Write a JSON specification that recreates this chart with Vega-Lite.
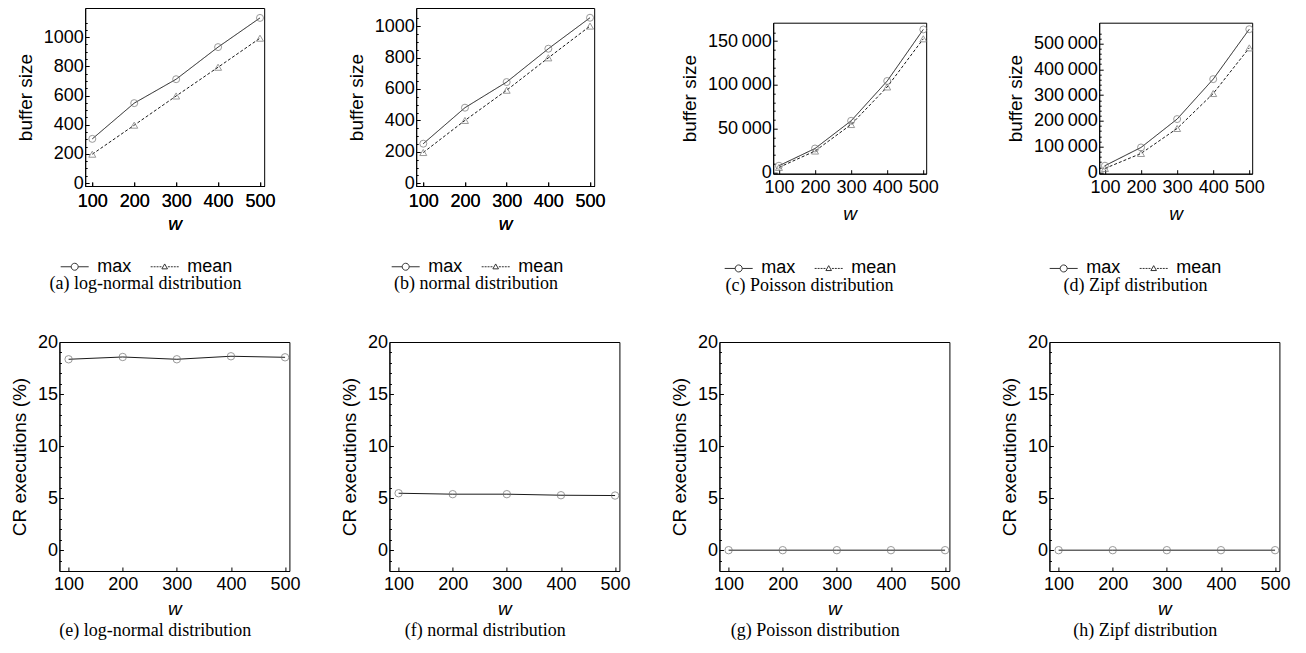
{
  "$schema": "https://vega.github.io/schema/vega-lite/v6.json",
  "background": "white",
  "padding": {"left": 9, "top": -3, "right": 0, "bottom": 5},
  "datasets": {
    "d": [
      {"panel": "a", "w": 100, "series": "max", "value": 303},
      {"panel": "a", "w": 200, "series": "max", "value": 548},
      {"panel": "a", "w": 300, "series": "max", "value": 712},
      {"panel": "a", "w": 400, "series": "max", "value": 932},
      {"panel": "a", "w": 500, "series": "max", "value": 1132},
      {"panel": "a", "w": 100, "series": "mean", "value": 198},
      {"panel": "a", "w": 200, "series": "mean", "value": 397},
      {"panel": "a", "w": 300, "series": "mean", "value": 597},
      {"panel": "a", "w": 400, "series": "mean", "value": 794},
      {"panel": "a", "w": 500, "series": "mean", "value": 993},
      {"panel": "b", "w": 100, "series": "max", "value": 252},
      {"panel": "b", "w": 200, "series": "max", "value": 481},
      {"panel": "b", "w": 300, "series": "max", "value": 644},
      {"panel": "b", "w": 400, "series": "max", "value": 856},
      {"panel": "b", "w": 500, "series": "max", "value": 1053},
      {"panel": "b", "w": 100, "series": "mean", "value": 196},
      {"panel": "b", "w": 200, "series": "mean", "value": 400},
      {"panel": "b", "w": 300, "series": "mean", "value": 592},
      {"panel": "b", "w": 400, "series": "mean", "value": 798},
      {"panel": "b", "w": 500, "series": "mean", "value": 1000},
      {"panel": "c", "w": 100, "series": "max", "value": 7600},
      {"panel": "c", "w": 200, "series": "max", "value": 27300},
      {"panel": "c", "w": 300, "series": "max", "value": 58900},
      {"panel": "c", "w": 400, "series": "max", "value": 104400},
      {"panel": "c", "w": 500, "series": "max", "value": 163300},
      {"panel": "c", "w": 100, "series": "mean", "value": 5700},
      {"panel": "c", "w": 200, "series": "mean", "value": 24400},
      {"panel": "c", "w": 300, "series": "mean", "value": 54700},
      {"panel": "c", "w": 400, "series": "mean", "value": 97600},
      {"panel": "c", "w": 500, "series": "mean", "value": 152600},
      {"panel": "d", "w": 100, "series": "max", "value": 26000},
      {"panel": "d", "w": 200, "series": "max", "value": 96900},
      {"panel": "d", "w": 300, "series": "max", "value": 207000},
      {"panel": "d", "w": 400, "series": "max", "value": 362000},
      {"panel": "d", "w": 500, "series": "max", "value": 555800},
      {"panel": "d", "w": 100, "series": "mean", "value": 15500},
      {"panel": "d", "w": 200, "series": "mean", "value": 73600},
      {"panel": "d", "w": 300, "series": "mean", "value": 170500},
      {"panel": "d", "w": 400, "series": "mean", "value": 306200},
      {"panel": "d", "w": 500, "series": "mean", "value": 483300},
      {"panel": "e", "w": 100, "series": "cr", "value": 18.34},
      {"panel": "e", "w": 200, "series": "cr", "value": 18.56},
      {"panel": "e", "w": 300, "series": "cr", "value": 18.34},
      {"panel": "e", "w": 400, "series": "cr", "value": 18.63},
      {"panel": "e", "w": 500, "series": "cr", "value": 18.53},
      {"panel": "f", "w": 100, "series": "cr", "value": 5.47},
      {"panel": "f", "w": 200, "series": "cr", "value": 5.38},
      {"panel": "f", "w": 300, "series": "cr", "value": 5.38},
      {"panel": "f", "w": 400, "series": "cr", "value": 5.28},
      {"panel": "f", "w": 500, "series": "cr", "value": 5.25},
      {"panel": "g", "w": 100, "series": "cr", "value": 0},
      {"panel": "g", "w": 200, "series": "cr", "value": 0},
      {"panel": "g", "w": 300, "series": "cr", "value": 0},
      {"panel": "g", "w": 400, "series": "cr", "value": 0},
      {"panel": "g", "w": 500, "series": "cr", "value": 0},
      {"panel": "h", "w": 100, "series": "cr", "value": 0},
      {"panel": "h", "w": 200, "series": "cr", "value": 0},
      {"panel": "h", "w": 300, "series": "cr", "value": 0},
      {"panel": "h", "w": 400, "series": "cr", "value": 0},
      {"panel": "h", "w": 500, "series": "cr", "value": 0}
    ]
  },
  "data": {"name": "d"},
  "config": {
    "view": {"stroke": "black", "strokeWidth": 1},
    "axis": {
      "labelFont": "Liberation Sans", "labelFontSize": 18, "labelColor": "black",
      "titleFont": "Liberation Sans", "titleFontSize": 19, "titleFontWeight": "normal", "titleColor": "black",
      "domainColor": "black", "domainWidth": 1, "tickColor": "black", "tickWidth": 1,
      "grid": false, "labelOverlap": false, "labelBound": false, "labelFlush": false
    },
    "axisX": {"titleFontStyle": "italic"},
    "title": {"font": "Liberation Serif", "fontSize": 18, "fontWeight": "normal", "color": "black"},
    "legend": {"labelFont": "Liberation Sans", "labelFontSize": 18, "labelColor": "black"}
  },
  "spacing": 36,
  "center": true,
  "vconcat": [
    {
      "spacing": 73,
      "resolve": {"scale": {"shape": "independent"}, "legend": {"shape": "independent"}},
      "hconcat": [
        {
          "spacing": 70,
          "resolve": {"scale": {"shape": "independent"}, "legend": {"shape": "independent"}},
          "hconcat": [
            {
              "width": 179, "height": 178,
              "transform": [{"filter": "datum.panel === 'a'"}],
              "resolve": {"axis": {"x": "independent"}},
              "encoding": {
                "x": {"field": "w", "type": "quantitative", "scale": {"domain": [83, 510], "nice": false, "zero": false},
                      "axis": {"title": "w", "values": [100, 200, 300, 400, 500], "tickSize": -4, "labelPadding": 10, "titlePadding": 4, "format": "d"}},
                "y": {"field": "value", "type": "quantitative", "scale": {"domain": [-20, 1200], "nice": false, "zero": false},
                      "axis": {"title": "buffer size",
                               "values": [0,50,100,150,200,250,300,350,400,450,500,550,600,650,700,750,800,850,900,950,1000,1050,1100],
                               "labelExpr": "datum.value % 200 === 0 ? format(datum.value, 'd') : ''",
                               "tickSize": {"condition": {"test": "datum.value % 200 === 0", "value": -4}, "value": -2},
                               "labelPadding": 6, "titlePadding": 8}}
              },
              "layer": [
                {"mark": {"type": "line", "color": "#1a1a1a", "strokeWidth": 1},
                 "encoding": {"detail": {"field": "series", "type": "nominal"},
                              "strokeDash": {"condition": {"test": "datum.series === 'mean'", "value": [3, 2]}, "value": [1, 0]}}},
                {"mark": {"type": "point", "filled": false, "color": "#707070", "strokeWidth": 1, "size": 49},
                 "encoding": {"x": {"field": "w", "type": "quantitative", "scale": {"domain": [83, 510], "nice": false, "zero": false},
                                    "axis": {"orient": "top", "labels": false, "ticks": true, "tickSize": -3, "tickColor": "transparent", "domain": false, "title": null, "values": [100, 200, 300, 400, 500], "minExtent": 10, "maxExtent": 10}},
                              "shape": {"condition": {"test": "datum.series === 'mean'", "value": "triangle-up"}, "value": "circle"}}},
                {"mark": {"type": "point", "filled": false, "color": "#333333", "opacity": 0},
                 "encoding": {"shape": {"field": "series", "type": "nominal",
                   "scale": {"domain": ["max", "mean"], "range": ["M-1,0H-0.25M0.25,0H1M0.25,0A0.25,0.25 0 1,1 -0.25,0A0.25,0.25 0 1,1 0.25,0", "M-1,0H-0.86M-0.79,0H-0.65M-0.58,0H-0.44M-0.37,0H-0.23M0.23,0H0.37M0.44,0H0.58M0.65,0H0.79M0.86,0H1M0,-0.2L0.2,0.15L-0.2,0.15Z"]},
                   "legend": {"orient": "none", "legendX": -25, "legendY": 244, "direction": "horizontal", "title": null, "symbolSize": 784, "symbolStrokeWidth": 1, "labelOffset": 8, "columnPadding": 16,
                              "encode": {"symbols": {"update": {"opacity": {"value": 1}, "stroke": {"value": "#333333"}, "fill": {"value": "transparent"}}}}}}}}
              ],
              "title": {"text": "(a) log-normal distribution", "orient": "bottom", "anchor": "middle", "frame": "bounds", "offset": -1}
            },
            {
              "width": 178, "height": 178,
              "transform": [{"filter": "datum.panel === 'b'"}],
              "resolve": {"axis": {"x": "independent"}},
              "encoding": {
                "x": {"field": "w", "type": "quantitative", "scale": {"domain": [83, 510], "nice": false, "zero": false},
                      "axis": {"title": "w", "values": [100, 200, 300, 400, 500], "tickSize": -4, "labelPadding": 10, "titlePadding": 4, "format": "d"}},
                "y": {"field": "value", "type": "quantitative", "scale": {"domain": [-17, 1115], "nice": false, "zero": false},
                      "axis": {"title": "buffer size",
                               "values": [0,50,100,150,200,250,300,350,400,450,500,550,600,650,700,750,800,850,900,950,1000,1050],
                               "labelExpr": "datum.value % 200 === 0 ? format(datum.value, 'd') : ''",
                               "tickSize": {"condition": {"test": "datum.value % 200 === 0", "value": -4}, "value": -2},
                               "labelPadding": 6, "titlePadding": 8}}
              },
              "layer": [
                {"mark": {"type": "line", "color": "#1a1a1a", "strokeWidth": 1},
                 "encoding": {"detail": {"field": "series", "type": "nominal"},
                              "strokeDash": {"condition": {"test": "datum.series === 'mean'", "value": [3, 2]}, "value": [1, 0]}}},
                {"mark": {"type": "point", "filled": false, "color": "#707070", "strokeWidth": 1, "size": 49},
                 "encoding": {"x": {"field": "w", "type": "quantitative", "scale": {"domain": [83, 510], "nice": false, "zero": false},
                                    "axis": {"orient": "top", "labels": false, "ticks": true, "tickSize": -3, "tickColor": "transparent", "domain": false, "title": null, "values": [100, 200, 300, 400, 500], "minExtent": 10, "maxExtent": 10}},
                              "shape": {"condition": {"test": "datum.series === 'mean'", "value": "triangle-up"}, "value": "circle"}}},
                {"mark": {"type": "point", "filled": false, "color": "#333333", "opacity": 0},
                 "encoding": {"shape": {"field": "series", "type": "nominal",
                   "scale": {"domain": ["max", "mean"], "range": ["M-1,0H-0.25M0.25,0H1M0.25,0A0.25,0.25 0 1,1 -0.25,0A0.25,0.25 0 1,1 0.25,0", "M-1,0H-0.86M-0.79,0H-0.65M-0.58,0H-0.44M-0.37,0H-0.23M0.23,0H0.37M0.44,0H0.58M0.65,0H0.79M0.86,0H1M0,-0.2L0.2,0.15L-0.2,0.15Z"]},
                   "legend": {"orient": "none", "legendX": -25, "legendY": 244, "direction": "horizontal", "title": null, "symbolSize": 784, "symbolStrokeWidth": 1, "labelOffset": 8, "columnPadding": 16,
                              "encode": {"symbols": {"update": {"opacity": {"value": 1}, "stroke": {"value": "#333333"}, "fill": {"value": "transparent"}}}}}}}}
              ],
              "title": {"text": "(b) normal distribution", "orient": "bottom", "anchor": "middle", "frame": "bounds", "offset": -1}
            }
          ]
        },
        {
          "spacing": 12.7,
          "resolve": {"scale": {"shape": "independent"}, "legend": {"shape": "independent"}},
          "vconcat": [
            {
              "width": 1, "height": 1, "view": {"stroke": null, "fill": null},
              "data": {"values": []},
              "mark": {"type": "point", "opacity": 0}
            },
            {
              "spacing": 66,
              "resolve": {"scale": {"shape": "independent"}, "legend": {"shape": "independent"}},
              "hconcat": [
                {
                  "width": 153, "height": 151,
                  "transform": [{"filter": "datum.panel === 'c'"}],
                  "encoding": {
                    "x": {"field": "w", "type": "quantitative", "scale": {"domain": [84, 508], "nice": false, "zero": false},
                          "axis": {"title": "w", "values": [100, 200, 300, 400, 500], "tickSize": -4, "labelPadding": 9, "titlePadding": 8, "format": "d"}},
                    "y": {"field": "value", "type": "quantitative", "scale": {"domain": [-1500, 171000], "nice": false, "zero": false},
                          "axis": {"title": "buffer size",
                                   "values": [0,10000,20000,30000,40000,50000,60000,70000,80000,90000,100000,110000,120000,130000,140000,150000,160000],
                                   "labelExpr": "datum.value % 50000 === 0 ? replace(format(datum.value, ','), ',', '\u2009') : ''",
                                   "tickSize": {"condition": {"test": "datum.value % 50000 === 0", "value": -4}, "value": -2},
                                   "labelPadding": 6, "titlePadding": 8}}
                  },
                  "layer": [
                    {"mark": {"type": "line", "color": "#1a1a1a", "strokeWidth": 1},
                     "encoding": {"detail": {"field": "series", "type": "nominal"},
                                  "strokeDash": {"condition": {"test": "datum.series === 'mean'", "value": [3, 2]}, "value": [1, 0]}}},
                    {"mark": {"type": "point", "filled": false, "color": "#707070", "strokeWidth": 1, "size": 49},
                     "encoding": {"shape": {"condition": {"test": "datum.series === 'mean'", "value": "triangle-up"}, "value": "circle"}}},
                    {"mark": {"type": "point", "filled": false, "color": "#333333", "opacity": 0},
                     "encoding": {"shape": {"field": "series", "type": "nominal",
                       "scale": {"domain": ["max", "mean"], "range": ["M-1,0H-0.25M0.25,0H1M0.25,0A0.25,0.25 0 1,1 -0.25,0A0.25,0.25 0 1,1 0.25,0", "M-1,0H-0.86M-0.79,0H-0.65M-0.58,0H-0.44M-0.37,0H-0.23M0.23,0H0.37M0.44,0H0.58M0.65,0H0.79M0.86,0H1M0,-0.2L0.2,0.15L-0.2,0.15Z"]},
                       "legend": {"orient": "none", "legendX": -49, "legendY": 231, "direction": "horizontal", "title": null, "symbolSize": 784, "symbolStrokeWidth": 1, "labelOffset": 8, "columnPadding": 16,
                                  "encode": {"symbols": {"update": {"opacity": {"value": 1}, "stroke": {"value": "#333333"}, "fill": {"value": "transparent"}}}}}}}}
                  ],
                  "title": {"text": "(c) Poisson distribution", "orient": "bottom", "anchor": "middle", "frame": "bounds", "offset": -1}
                },
                {
                  "width": 153, "height": 151,
                  "transform": [{"filter": "datum.panel === 'd'"}],
                  "encoding": {
                    "x": {"field": "w", "type": "quantitative", "scale": {"domain": [84, 508], "nice": false, "zero": false},
                          "axis": {"title": "w", "values": [100, 200, 300, 400, 500], "tickSize": -4, "labelPadding": 9, "titlePadding": 8, "format": "d"}},
                    "y": {"field": "value", "type": "quantitative", "scale": {"domain": [-5000, 581000], "nice": false, "zero": false},
                          "axis": {"title": "buffer size",
                                   "values": [0,20000,40000,60000,80000,100000,120000,140000,160000,180000,200000,220000,240000,260000,280000,300000,320000,340000,360000,380000,400000,420000,440000,460000,480000,500000,520000,540000],
                                   "labelExpr": "datum.value % 100000 === 0 ? replace(format(datum.value, ','), ',', '\u2009') : ''",
                                   "tickSize": {"condition": {"test": "datum.value % 100000 === 0", "value": -4}, "value": -2},
                                   "labelPadding": 6, "titlePadding": 8}}
                  },
                  "layer": [
                    {"mark": {"type": "line", "color": "#1a1a1a", "strokeWidth": 1},
                     "encoding": {"detail": {"field": "series", "type": "nominal"},
                                  "strokeDash": {"condition": {"test": "datum.series === 'mean'", "value": [3, 2]}, "value": [1, 0]}}},
                    {"mark": {"type": "point", "filled": false, "color": "#707070", "strokeWidth": 1, "size": 49},
                     "encoding": {"shape": {"condition": {"test": "datum.series === 'mean'", "value": "triangle-up"}, "value": "circle"}}},
                    {"mark": {"type": "point", "filled": false, "color": "#333333", "opacity": 0},
                     "encoding": {"shape": {"field": "series", "type": "nominal",
                       "scale": {"domain": ["max", "mean"], "range": ["M-1,0H-0.25M0.25,0H1M0.25,0A0.25,0.25 0 1,1 -0.25,0A0.25,0.25 0 1,1 0.25,0", "M-1,0H-0.86M-0.79,0H-0.65M-0.58,0H-0.44M-0.37,0H-0.23M0.23,0H0.37M0.44,0H0.58M0.65,0H0.79M0.86,0H1M0,-0.2L0.2,0.15L-0.2,0.15Z"]},
                       "legend": {"orient": "none", "legendX": -50, "legendY": 231, "direction": "horizontal", "title": null, "symbolSize": 784, "symbolStrokeWidth": 1, "labelOffset": 8, "columnPadding": 16,
                                  "encode": {"symbols": {"update": {"opacity": {"value": 1}, "stroke": {"value": "#333333"}, "fill": {"value": "transparent"}}}}}}}}
                  ],
                  "title": {"text": "(d) Zipf distribution", "orient": "bottom", "anchor": "middle", "frame": "bounds", "offset": -1}
                }
              ]
            }
          ]
        }
      ]
    },
    {
      "spacing": 38,
      "hconcat": [
        {
          "width": 230, "height": 229,
          "transform": [{"filter": "datum.panel === 'e'"}],
          "encoding": {
            "x": {"field": "w", "type": "quantitative", "scale": {"domain": [83, 508], "nice": false, "zero": false},
                  "axis": {"title": "w", "values": [100, 200, 300, 400, 500], "tickSize": -4, "labelPadding": 8, "titlePadding": 6, "format": "d"}},
            "y": {"field": "value", "type": "quantitative", "scale": {"domain": [-2, 20], "nice": false, "zero": false},
                  "axis": {"title": "CR executions (%)",
                           "values": [-1,0,1,2,3,4,5,6,7,8,9,10,11,12,13,14,15,16,17,18,19,20],
                           "labelExpr": "datum.value % 5 === 0 ? format(datum.value, 'd') : ''",
                           "tickSize": {"condition": {"test": "datum.value % 5 === 0", "value": -4}, "value": -2},
                           "labelPadding": 6, "titlePadding": 8}}
          },
          "layer": [
            {"mark": {"type": "line", "color": "#1a1a1a", "strokeWidth": 1}},
            {"mark": {"type": "point", "filled": false, "color": "#707070", "strokeWidth": 1, "size": 55, "shape": "circle"}}
          ],
          "title": {"text": "(e) log-normal distribution", "orient": "bottom", "anchor": "middle", "frame": "bounds", "offset": 4}
        },
        {
          "width": 230, "height": 229,
          "transform": [{"filter": "datum.panel === 'f'"}],
          "encoding": {
            "x": {"field": "w", "type": "quantitative", "scale": {"domain": [83, 508], "nice": false, "zero": false},
                  "axis": {"title": "w", "values": [100, 200, 300, 400, 500], "tickSize": -4, "labelPadding": 8, "titlePadding": 6, "format": "d"}},
            "y": {"field": "value", "type": "quantitative", "scale": {"domain": [-2, 20], "nice": false, "zero": false},
                  "axis": {"title": "CR executions (%)",
                           "values": [-1,0,1,2,3,4,5,6,7,8,9,10,11,12,13,14,15,16,17,18,19,20],
                           "labelExpr": "datum.value % 5 === 0 ? format(datum.value, 'd') : ''",
                           "tickSize": {"condition": {"test": "datum.value % 5 === 0", "value": -4}, "value": -2},
                           "labelPadding": 6, "titlePadding": 8}}
          },
          "layer": [
            {"mark": {"type": "line", "color": "#1a1a1a", "strokeWidth": 1}},
            {"mark": {"type": "point", "filled": false, "color": "#707070", "strokeWidth": 1, "size": 55, "shape": "circle"}}
          ],
          "title": {"text": "(f) normal distribution", "orient": "bottom", "anchor": "middle", "frame": "bounds", "offset": 4}
        },
        {
          "width": 230, "height": 229,
          "transform": [{"filter": "datum.panel === 'g'"}],
          "encoding": {
            "x": {"field": "w", "type": "quantitative", "scale": {"domain": [83, 508], "nice": false, "zero": false},
                  "axis": {"title": "w", "values": [100, 200, 300, 400, 500], "tickSize": -4, "labelPadding": 8, "titlePadding": 6, "format": "d"}},
            "y": {"field": "value", "type": "quantitative", "scale": {"domain": [-2, 20], "nice": false, "zero": false},
                  "axis": {"title": "CR executions (%)",
                           "values": [-1,0,1,2,3,4,5,6,7,8,9,10,11,12,13,14,15,16,17,18,19,20],
                           "labelExpr": "datum.value % 5 === 0 ? format(datum.value, 'd') : ''",
                           "tickSize": {"condition": {"test": "datum.value % 5 === 0", "value": -4}, "value": -2},
                           "labelPadding": 6, "titlePadding": 8}}
          },
          "layer": [
            {"mark": {"type": "line", "color": "#1a1a1a", "strokeWidth": 1}},
            {"mark": {"type": "point", "filled": false, "color": "#707070", "strokeWidth": 1, "size": 55, "shape": "circle"}}
          ],
          "title": {"text": "(g) Poisson distribution", "orient": "bottom", "anchor": "middle", "frame": "bounds", "offset": 4}
        },
        {
          "width": 230, "height": 229,
          "transform": [{"filter": "datum.panel === 'h'"}],
          "encoding": {
            "x": {"field": "w", "type": "quantitative", "scale": {"domain": [83, 508], "nice": false, "zero": false},
                  "axis": {"title": "w", "values": [100, 200, 300, 400, 500], "tickSize": -4, "labelPadding": 8, "titlePadding": 6, "format": "d"}},
            "y": {"field": "value", "type": "quantitative", "scale": {"domain": [-2, 20], "nice": false, "zero": false},
                  "axis": {"title": "CR executions (%)",
                           "values": [-1,0,1,2,3,4,5,6,7,8,9,10,11,12,13,14,15,16,17,18,19,20],
                           "labelExpr": "datum.value % 5 === 0 ? format(datum.value, 'd') : ''",
                           "tickSize": {"condition": {"test": "datum.value % 5 === 0", "value": -4}, "value": -2},
                           "labelPadding": 6, "titlePadding": 8}}
          },
          "layer": [
            {"mark": {"type": "line", "color": "#1a1a1a", "strokeWidth": 1}},
            {"mark": {"type": "point", "filled": false, "color": "#707070", "strokeWidth": 1, "size": 55, "shape": "circle"}}
          ],
          "title": {"text": "(h) Zipf distribution", "orient": "bottom", "anchor": "middle", "frame": "bounds", "offset": 4}
        }
      ]
    }
  ]
}
